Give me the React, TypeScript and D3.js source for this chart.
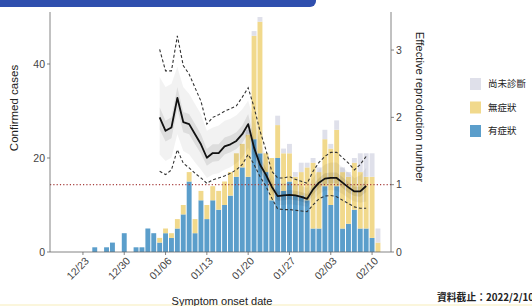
import React, { useEffect } from 'react';
import * as d3 from 'd3';

// Daily case counts by symptom onset, starting 2021-12-25
const BAR_START = '2021-12-25';
const symptomatic = [
  1, 0, 1, 2, 0, 4, 0,
  1, 1, 5, 4, 2, 4, 3, 5, 8, 15,
  4, 11, 7, 11, 9, 10, 12, 16, 18, 16,
  24, 21, 17, 11, 20, 13, 15, 12, 12, 11, 5,
  5, 14, 10, 14, 5, 6, 9, 5, 5, 3, 0,
];
const asymptomatic = [
  0, 0, 0, 0, 0, 0, 0,
  0, 0, 0, 0, 1, 1, 1, 2, 2, 2,
  3, 2, 3, 3, 4, 5, 5, 5, 5, 9,
  22, 28, 4, 9, 7, 8, 6, 4, 5, 7, 14,
  12, 10, 12, 12, 12, 10, 10, 12, 11, 13, 2,
];
const undiagnosed = [
  0, 0, 0, 0, 0, 0, 0,
  0, 0, 0, 0, 0, 0, 0, 0, 0, 0,
  0, 0, 0, 0, 0, 0, 0, 0, 0, 1,
  1, 1, 0, 0, 2, 1, 2, 1, 2, 1, 1,
  1, 2, 1, 2, 1, 1, 1, 4, 5, 5, 3,
];

// Effective reproduction number, starting 2022-01-05
const RT_START = '2022-01-05';
const rtMedian = [
  2.0, 1.8, 1.85, 2.29, 1.93, 1.9, 1.75, 1.6, 1.4, 1.47, 1.47, 1.57, 1.6, 1.65, 1.75, 1.9,
  1.55, 1.3, 1.15, 0.97, 0.83, 0.84, 0.85, 0.84, 0.82, 0.79, 0.93, 1.03, 1.09, 1.1, 1.1, 1.03, 0.96, 0.9, 0.9, 0.98,
];
const rtUpper = [
  3.01, 2.69, 2.69, 3.21, 2.77, 2.64, 2.44, 2.24, 1.9, 2.0, 2.04, 2.09, 2.13, 2.17, 2.3, 2.44,
  2.15, 1.8, 1.52, 1.2, 1.1, 1.1, 1.12, 1.08, 1.05, 1.02, 1.2, 1.33, 1.42, 1.48, 1.48, 1.4, 1.32, 1.22, 1.3, 1.42,
];
const rtLower = [
  1.2, 1.15, 1.22, 1.52, 1.32, 1.25, 1.17, 1.1, 1.02, 1.07, 1.1, 1.13, 1.17, 1.22, 1.3, 1.45,
  1.3, 1.12, 0.98, 0.8, 0.64, 0.63, 0.63, 0.62, 0.61, 0.6, 0.7, 0.79, 0.83, 0.84, 0.82, 0.77, 0.72, 0.67, 0.65, 0.65,
];
const outerHi = [
  2.6, 2.45, 2.5, 2.75, 2.45, 2.35, 2.2, 2.05, 1.8, 1.85, 1.88, 1.95, 1.98, 2.03, 2.12, 2.25,
  1.95, 1.65, 1.42, 1.15, 1.02, 1.02, 1.03, 1.01, 0.98, 0.95, 1.1, 1.22, 1.3, 1.33, 1.33, 1.26, 1.18, 1.1, 1.14, 1.25,
];
const outerLo = [
  1.45, 1.35, 1.4, 1.75, 1.5, 1.45, 1.33, 1.22, 1.1, 1.15, 1.17, 1.22, 1.26, 1.32, 1.4, 1.55,
  1.38, 1.18, 1.03, 0.85, 0.7, 0.7, 0.71, 0.7, 0.69, 0.67, 0.77, 0.86, 0.91, 0.92, 0.91, 0.86, 0.8, 0.75, 0.73, 0.75,
];
const innerHi = [
  2.15, 1.95, 2.0, 2.45, 2.08, 2.05, 1.9, 1.75, 1.53, 1.6, 1.6, 1.7, 1.73, 1.78, 1.88, 2.05,
  1.68, 1.41, 1.25, 1.05, 0.9, 0.91, 0.92, 0.91, 0.89, 0.86, 1.0, 1.1, 1.17, 1.18, 1.18, 1.11, 1.04, 0.97, 0.97, 1.07,
];
const innerLo = [
  1.82, 1.64, 1.69, 2.12, 1.78, 1.75, 1.6, 1.46, 1.28, 1.34, 1.35, 1.45, 1.48, 1.53, 1.62, 1.76,
  1.43, 1.2, 1.05, 0.89, 0.76, 0.77, 0.78, 0.77, 0.75, 0.72, 0.85, 0.95, 1.01, 1.02, 1.02, 0.95, 0.88, 0.83, 0.82, 0.89,
];

const xTicks = ['2021-12-23', '2021-12-30', '2022-01-06', '2022-01-13', '2022-01-20', '2022-01-27', '2022-02-03', '2022-02-10'];
const leftTicks = [0, 20, 40];
const rightTicks = [0, 1, 2, 3];

const legendItems = [
  { label: '尚未診斷', color: '#dfe0ea' },
  { label: '無症狀', color: '#f1d98c' },
  { label: '有症狀', color: '#5b9ecb' },
];

const W = 532;
const H = 306;
const FONT = '"Liberation Sans", Arial, sans-serif';
const CJK = '"Noto Sans CJK TC", sans-serif';

const parse = d3.utcParse('%Y-%m-%d');
const fmt = d3.utcFormat('%m/%d');

const App: React.FC = () => {
  useEffect(() => {
    document.body.style.margin = '0';
  }, []);

  const plot = { left: 50, right: 391, top: 12, bottom: 252 };

  const x = d3
    .scaleUtc()
    .domain([d3.utcHour.offset(parse('2021-12-23')!, -134), d3.utcHour.offset(parse('2022-02-13')!, 5)])
    .range([plot.left, plot.right]);
  const yCases = d3.scaleLinear().domain([0, 51.06]).range([plot.bottom, plot.top]);
  const yRt = d3.scaleLinear().domain([0, 3.565]).range([plot.bottom, plot.top]);

  // bar rows
  const barStart = parse(BAR_START)!;
  const rows = symptomatic.map((s, i) => ({
    date: d3.utcDay.offset(barStart, i),
    sym: s,
    asym: asymptomatic[i],
    und: undiagnosed[i],
  }));
  const keys = ['sym', 'asym', 'und'];
  const colors: Record<string, string> = { sym: '#5b9ecb', asym: '#f1d98c', und: '#dfe0ea' };
  const stacked = d3.stack<any>().keys(keys)(rows);
  const barW = 4.9;

  // Rt rows
  const rtStart = parse(RT_START)!;
  const rt = rtMedian.map((m, i) => ({
    date: d3.utcDay.offset(rtStart, i),
    m,
    up: rtUpper[i],
    lo: rtLower[i],
    oh: outerHi[i],
    ol: outerLo[i],
    ih: innerHi[i],
    il: innerLo[i],
  }));
  type R = (typeof rt)[number];
  const outerArea = d3.area<R>().x((d) => x(d.date)).y0((d) => yRt(d.ol)).y1((d) => yRt(d.oh));
  const innerArea = d3.area<R>().x((d) => x(d.date)).y0((d) => yRt(d.il)).y1((d) => yRt(d.ih));
  const line = (acc: (d: R) => number) => d3.line<R>().x((d) => x(d.date)).y((d) => yRt(acc(d)))(rt) || '';

  const axisColor = '#666';
  const tickColor = '#444';

  return (
    <svg width={W} height={H} style={{ display: 'block', background: '#fff' }} fontFamily={FONT}>
      <rect width={W} height={H} fill="#fff" />
      {/* header bar */}
      <rect x={-10} y={-10} width={326} height={17} rx={6} fill="#2f4fae" />
      <rect x={0} y={304} width={W} height={2} fill="#fbf6dc" />

      {/* bars */}
      {stacked.map((layer) => (
        <g key={layer.key} fill={colors[layer.key]}>
          {layer.map((d, i) =>
            d[1] - d[0] > 0 ? (
              <rect
                key={i}
                x={x(d.data.date) - barW / 2}
                y={yCases(d[1])}
                width={barW}
                height={yCases(d[0]) - yCases(d[1])}
              />
            ) : null
          )}
        </g>
      ))}

      {/* Rt = 1 reference */}
      <line
        x1={plot.left}
        x2={plot.right}
        y1={yRt(1)}
        y2={yRt(1)}
        stroke="#a8403f"
        strokeWidth={1.3}
        strokeDasharray="1.2 2.1"
      />

      {/* credible bands */}
      <path d={outerArea(rt) || ''} fill="#000" fillOpacity={0.05} />
      <path d={innerArea(rt) || ''} fill="#000" fillOpacity={0.085} />
      <path d={line((d) => d.up)} fill="none" stroke="#333" strokeWidth={1.1} strokeDasharray="3 2.2" />
      <path d={line((d) => d.lo)} fill="none" stroke="#333" strokeWidth={1.1} strokeDasharray="3 2.2" />
      <path d={line((d) => d.m)} fill="none" stroke="#111" strokeWidth={1.8} strokeLinejoin="round" />

      {/* left axis */}
      <line x1={plot.left} x2={plot.left} y1={plot.top} y2={plot.bottom} stroke={axisColor} strokeWidth={0.8} />
      {leftTicks.map((t) => (
        <g key={t} transform={`translate(${plot.left},${yCases(t)})`}>
          <line x1={-3} x2={0} stroke={axisColor} strokeWidth={0.8} />
          <text x={-5} dy="0.35em" textAnchor="end" fontSize={10.5} fill={tickColor}>
            {t}
          </text>
        </g>
      ))}
      {/* right axis */}
      <line x1={plot.right} x2={plot.right} y1={plot.top} y2={plot.bottom} stroke={axisColor} strokeWidth={0.8} />
      {rightTicks.map((t) => (
        <g key={t} transform={`translate(${plot.right},${yRt(t)})`}>
          <line x1={0} x2={3} stroke={axisColor} strokeWidth={0.8} />
          <text x={5} dy="0.35em" textAnchor="start" fontSize={10.5} fill={tickColor}>
            {t}
          </text>
        </g>
      ))}
      {/* x axis */}
      <line x1={plot.left} x2={plot.right} y1={plot.bottom} y2={plot.bottom} stroke={axisColor} strokeWidth={0.8} />
      {xTicks.map((t) => {
        const d = parse(t)!;
        const px = x(d);
        return (
          <g key={t}>
            <line x1={px} x2={px} y1={plot.bottom} y2={plot.bottom + 3} stroke={axisColor} strokeWidth={0.8} />
            <text
              transform={`translate(${px + 3},${plot.bottom + 6}) rotate(-45)`}
              textAnchor="end"
              dy="0.5em"
              fontSize={10.5}
              fill={tickColor}
            >
              {fmt(d)}
            </text>
          </g>
        );
      })}

      {/* axis titles */}
      <text transform="translate(18,108) rotate(-90)" textAnchor="middle" fontSize={11.5} fill="#222">
        Confirmed cases
      </text>
      <text transform="translate(416,107) rotate(90)" textAnchor="middle" fontSize={11.3} fill="#222">
        Effective reproduction number
      </text>
      <text x={222} y={305} textAnchor="middle" fontSize={11} fill="#222">
        Symptom onset date
      </text>

      {/* legend */}
      {legendItems.map((item, i) => (
        <g key={item.label} transform={`translate(470,${78 + i * 23.5})`}>
          <rect width={11} height={12} fill={item.color} />
          <text x={18} y={6} dy="0.35em" fontSize={9.5} fill="#222" fontFamily={CJK}>
            {item.label}
          </text>
        </g>
      ))}

      <text x={437} y={301} fontSize={9.8} fontWeight="bold" fill="#222" fontFamily={CJK}>
        資料截止：2022/2/10
      </text>
    </svg>
  );
};

export default App;
